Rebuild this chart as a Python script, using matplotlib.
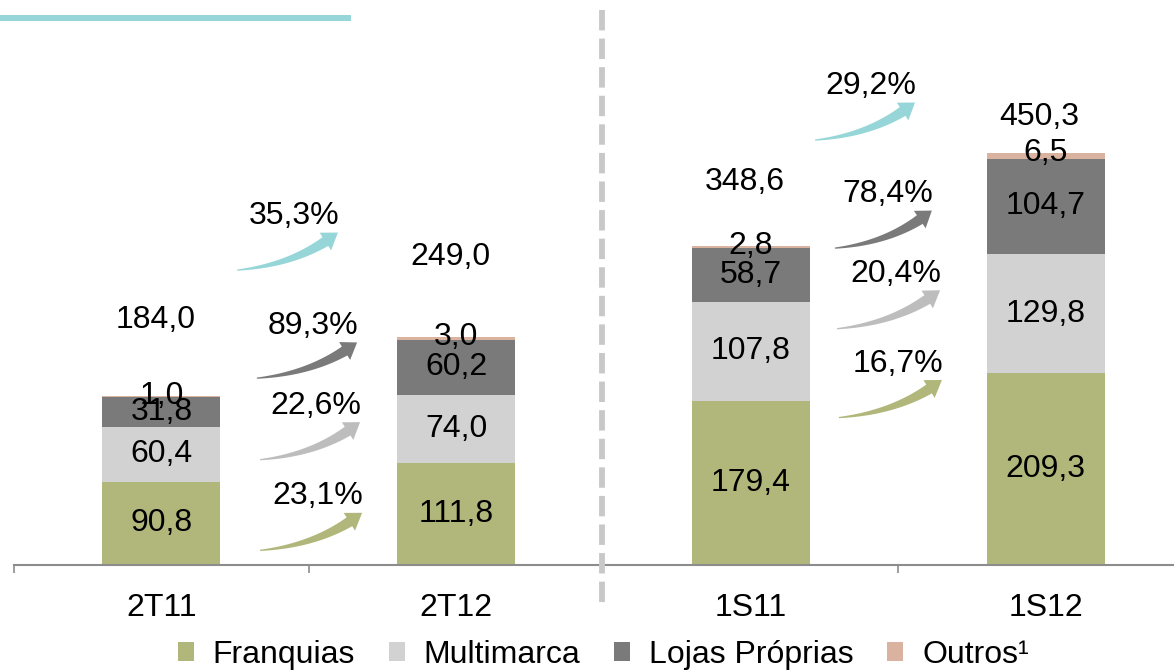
import numpy as np
import matplotlib
matplotlib.use("Agg")
import matplotlib.pyplot as plt
from matplotlib.patches import Patch, Polygon


# Data
CATEGORIES = ["2T11", "2T12", "1S11", "1S12"]
SERIES = ["Franquias", "Multimarca", "Lojas Próprias", "Outros¹"]

FRANQUIAS = [90.8, 111.8, 179.4, 209.3]
MULTIMARCA = [60.4, 74.0, 107.8, 129.8]
LOJAS = [31.8, 60.2, 58.7, 104.7]
OUTROS = [1.0, 3.0, 2.8, 6.5]
TOTALS = [184.0, 249.0, 348.6, 450.3]

GROWTH = ["35,3%", "89,3%", "22,6%", "23,1%", "29,2%", "78,4%", "20,4%", "16,7%"]

# Style
COLORS = ["#B1B77B", "#D2D2D2", "#7A7A7A", "#D9B3A0"]
TEAL = "#96D5D8"
ARROW_COLORS = [TEAL, COLORS[2], "#BDBDBD", COLORS[0]] * 2
FONT = 23

# Positions (data units): arrow start/end, offset of total labels
ARROW_START = [(0.257, 322), (0.324, 204), (0.335, 115), (0.335, 16),
               (2.218, 464), (2.285, 346), (2.292, 258), (2.299, 161)]
ARROW_END = [(0.599, 363), (0.664, 243), (0.674, 156), (0.681, 57),
             (2.557, 505), (2.614, 387), (2.642, 300), (2.648, 202)]
TOTAL_OFFSET = [83, 87, 70, 39]

plt.rcParams['font.family'] = ['Liberation Sans', 'DejaVu Sans']


def fmt(v):
    return ("%.1f" % v).replace(".", ",")


def curved_arrow(ax, p0, p2, color):
    # build a tapered curved arrow in pixels, then go back to data units
    a = ax.transData.transform(p0)
    b = ax.transData.transform(p2)
    d = b - a
    c = a + np.array([0.6 * d[0], 0.15 * d[1]])

    t = np.linspace(0, 0.85, 40)
    pts = ((1 - t) ** 2)[:, None] * a + (2 * (1 - t) * t)[:, None] * c + (t ** 2)[:, None] * b
    der = (2 * (1 - t))[:, None] * (c - a) + (2 * t)[:, None] * (b - c)
    nrm = np.stack([-der[:, 1], der[:, 0]], axis=1)
    nrm = nrm / np.linalg.norm(nrm, axis=1)[:, None]
    w = 0.6 + 4.6 * t / t[-1]

    upper = pts + nrm * w[:, None]
    lower = pts - nrm * w[:, None]
    head_l = pts[-1] + nrm[-1] * 10.5
    head_r = pts[-1] - nrm[-1] * 10.5

    poly = np.vstack([upper, [head_l], [b], [head_r], lower[::-1]])
    poly = ax.transData.inverted().transform(poly)
    ax.add_patch(Polygon(poly, closed=True, facecolor=color, edgecolor="none",
                         clip_on=False, zorder=3))


def main():
    fig = plt.figure(figsize=(11.74, 6.71), dpi=100)
    ax = fig.add_axes([14 / 1174, 1 - 565 / 671, 1179 / 1174, 555 / 671])
    ax.set_xlim(-0.5, 3.5)
    ax.set_ylim(0, 606)

    x = np.arange(len(CATEGORIES))
    layers = [FRANQUIAS, MULTIMARCA, LOJAS, OUTROS]
    bottom = np.zeros(len(CATEGORIES))

    for i, vals in enumerate(layers):
        ax.bar(x, vals, 0.4, bottom=bottom, color=COLORS[i], zorder=2)
        for j, v in enumerate(vals):
            if i == 3:
                yy = bottom[j] + v
            else:
                yy = bottom[j] + v / 2
            ax.text(x[j], yy, fmt(v), ha="center", va="center", fontsize=FONT, zorder=4)
        bottom += np.array(vals)

    for j, tot in enumerate(TOTALS):
        ax.text(x[j] - 0.02, tot + TOTAL_OFFSET[j], fmt(tot), ha="center", va="center",
                fontsize=FONT)

    for k in range(len(GROWTH)):
        curved_arrow(ax, ARROW_START[k], ARROW_END[k], ARROW_COLORS[k])
        ex, ey = ARROW_END[k]
        ax.text(ex - 0.15, ey + 18, GROWTH[k], ha="center", va="center", fontsize=FONT)

    # Axis
    for s in ["top", "right", "left"]:
        ax.spines[s].set_visible(False)
    ax.spines["bottom"].set_color("#8C8C8C")
    ax.spines["bottom"].set_linewidth(1.5)
    ax.set_yticks([])
    ax.set_xticks(x)
    ax.set_xticklabels(CATEGORIES, fontsize=FONT)
    ax.tick_params(axis="x", which="major", length=0, pad=20)
    ax.set_xticks([-0.5, 0.5, 1.5, 2.5], minor=True)
    ax.tick_params(axis="x", which="minor", length=6, color="#8C8C8C", width=1.2)

    # Separator and top line
    fig.add_artist(plt.Line2D([602 / 1174, 602 / 1174], [1 - 10 / 671, 1 - 610 / 671],
                              color="#C8C8C8", linewidth=4.2, linestyle=(0, (3.5, 1.4))))
    fig.add_artist(plt.Line2D([0, 351 / 1174], [1 - 18 / 671, 1 - 18 / 671],
                              color=TEAL, linewidth=4.3, solid_capstyle="butt"))

    handles = [Patch(facecolor=COLORS[i], label=SERIES[i]) for i in range(4)]
    fig.legend(handles=handles, loc="center", bbox_to_anchor=(0.514, 0.024), ncol=4,
               frameon=False, fontsize=FONT, handlelength=0.5, handleheight=0.5,
               handletextpad=0.6, columnspacing=1.05, borderpad=0)

    plt.savefig("out.png", dpi=100)


if __name__ == "__main__":
    main()
